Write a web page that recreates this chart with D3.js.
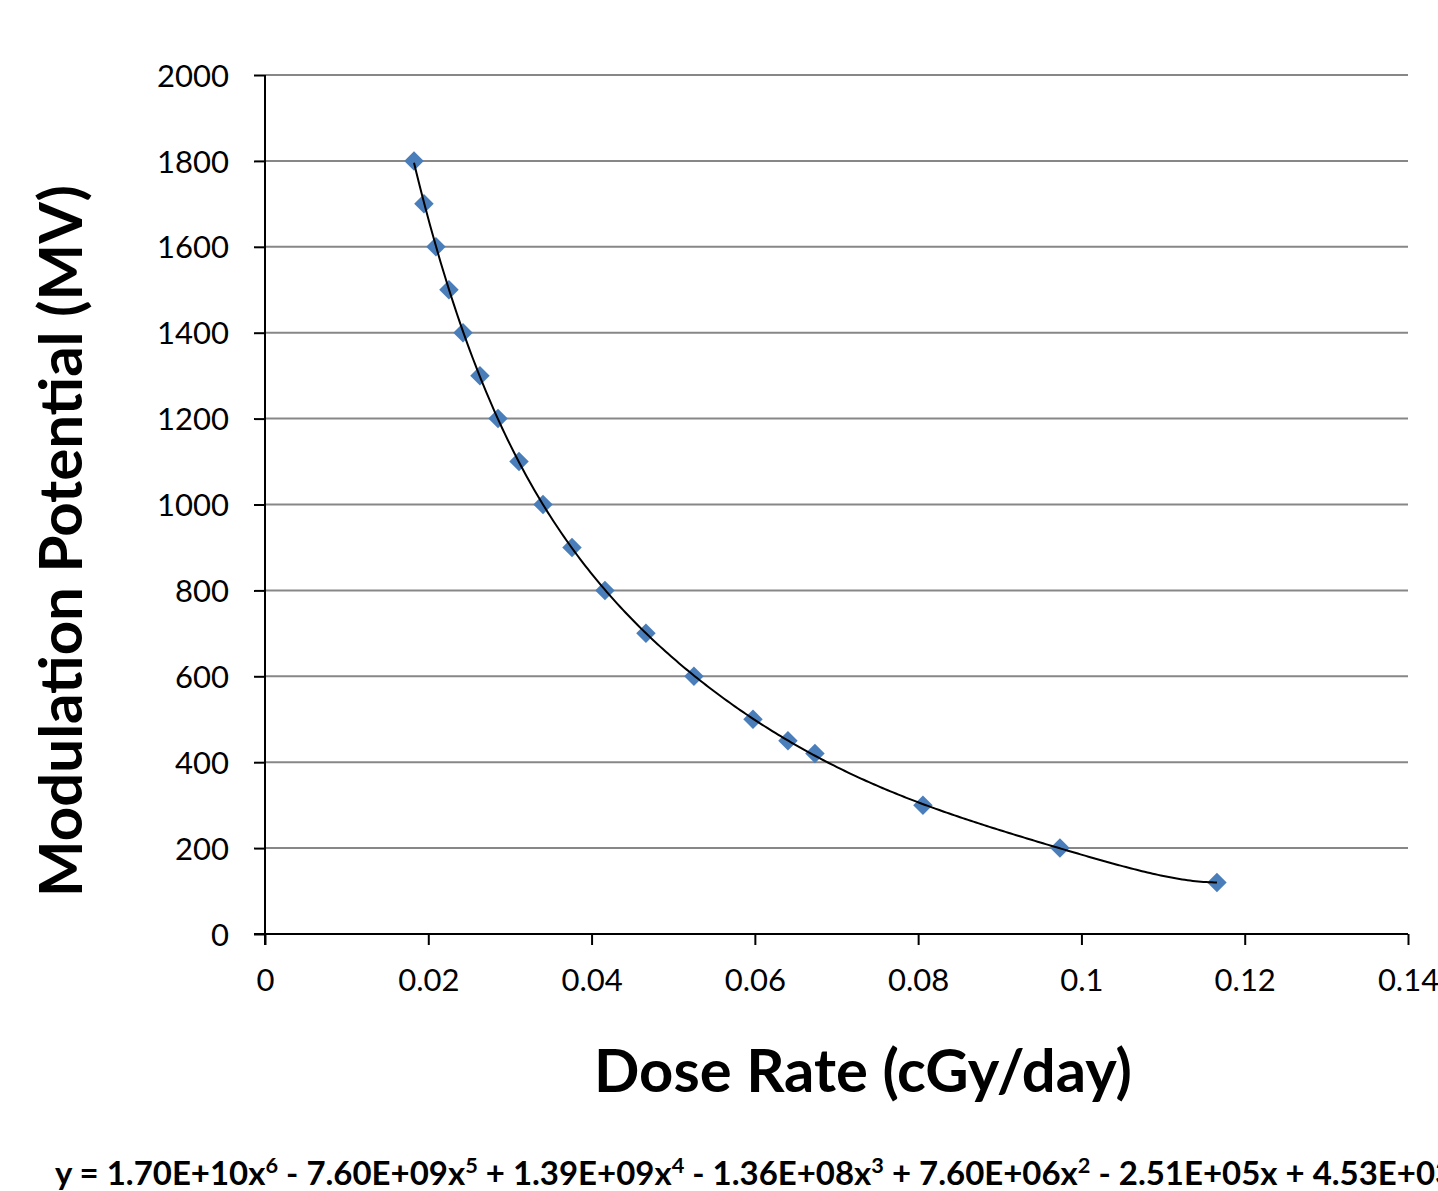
<!DOCTYPE html>
<html>
<head>
<meta charset="utf-8">
<script src="https://cdn.jsdelivr.net/npm/d3@7"></script>
<style>
  body { margin: 0; background: #fff; }
  svg { display: block; font-family: Lato, "Open Sans", sans-serif; }
</style>
</head>
<body>
<div id="chart"></div>
<script>
// Data
var doseRate = [0.01825, 0.01947, 0.02094, 0.02253, 0.02425, 0.02633, 0.02854, 0.03111, 0.03405,
                0.0376, 0.04164, 0.04666, 0.05254, 0.05977, 0.06405, 0.06736, 0.08059, 0.09737, 0.1166];
var potential = [1800, 1700, 1600, 1500, 1400, 1300, 1200, 1100, 1000,
                 900, 800, 700, 600, 500, 450, 420, 300, 200, 120];
var xTicks = [0, 0.02, 0.04, 0.06, 0.08, 0.1, 0.12, 0.14];
var yTicks = [0, 200, 400, 600, 800, 1000, 1200, 1400, 1600, 1800, 2000];
var xTitle = "Dose Rate (cGy/day)";
var yTitle = "Modulation Potential (MV)";
// equation parts: [text, superscript]
var equation = [["y = 1.70E+10x", "6"], [" - 7.60E+09x", "5"], [" + 1.39E+09x", "4"], [" - 1.36E+08x", "3"],
                [" + 7.60E+06x", "2"], [" - 2.51E+05x + 4.53E+03", ""]];

var W = 1438, H = 1191;
var svg = d3.select("#chart").append("svg")
    .attr("width", W)
    .attr("height", H);

var x = d3.scaleLinear().domain([0, 0.14]).range([265, 1408]);
var y = d3.scaleLinear().domain([0, 2000]).range([934, 75]);

// gridlines
svg.append("g")
  .selectAll("line")
  .data(yTicks.filter(function(d) { return d > 0; }))
  .enter().append("line")
    .attr("x1", x(0)).attr("x2", x(0.14))
    .attr("y1", function(d) { return y(d); })
    .attr("y2", function(d) { return y(d); })
    .attr("stroke", "#878787")
    .attr("stroke-width", 2);

// axes
var xAxis = svg.append("g")
    .attr("transform", "translate(0," + y(0) + ")")
    .call(d3.axisBottom(x).tickValues(xTicks).tickSize(11).tickFormat(d3.format("~g")));
var yAxis = svg.append("g")
    .attr("transform", "translate(" + x(0) + ",0)")
    .call(d3.axisLeft(y).tickValues(yTicks).tickSize(11).tickFormat(d3.format("d")));

[xAxis, yAxis].forEach(function(a) {
  a.select(".domain").attr("stroke", "#000").attr("stroke-width", 2);
  a.selectAll(".tick line").attr("stroke", "#000").attr("stroke-width", 2);
  a.selectAll(".tick text")
    .attr("fill", "#000")
    .style("font-size", "31px")
    .style("font-family", "Lato, sans-serif");
});
xAxis.selectAll(".tick text").attr("y", 35).attr("dy", "0.71em");
yAxis.selectAll(".tick text").attr("x", -36).attr("dy", "0.36em");
// extend axes lines to meet ticks at origin
xAxis.select(".domain").attr("d", "M" + (x(0) - 11) + ",0H" + x(0.14));
yAxis.select(".domain").attr("d", "M0," + y(2000) + "V" + (y(0) + 11));

// polynomial trendline (least squares, order 6)
function polyFit(xs, ys, order) {
  var mean = d3.mean(xs), sd = d3.deviation(xs);
  var n = order + 1;
  var A = [], b = [];
  for (var i = 0; i < n; i++) { A.push(new Array(n).fill(0)); b.push(0); }
  xs.forEach(function(xv, k) {
    var t = (xv - mean) / sd;
    var pw = [];
    for (var i = 0; i < 2 * n; i++) pw.push(Math.pow(t, i));
    for (var i = 0; i < n; i++) {
      for (var j = 0; j < n; j++) A[i][j] += pw[i + j];
      b[i] += pw[i] * ys[k];
    }
  });
  for (var c = 0; c < n; c++) {
    var p = c;
    for (var r = c + 1; r < n; r++) if (Math.abs(A[r][c]) > Math.abs(A[p][c])) p = r;
    var tmp = A[c]; A[c] = A[p]; A[p] = tmp;
    var tb = b[c]; b[c] = b[p]; b[p] = tb;
    for (var r = c + 1; r < n; r++) {
      var f = A[r][c] / A[c][c];
      for (var j = c; j < n; j++) A[r][j] -= f * A[c][j];
      b[r] -= f * b[c];
    }
  }
  var coef = new Array(n).fill(0);
  for (var i = n - 1; i >= 0; i--) {
    var s = b[i];
    for (var j = i + 1; j < n; j++) s -= A[i][j] * coef[j];
    coef[i] = s / A[i][i];
  }
  return function(xv) {
    var t = (xv - mean) / sd, s = 0;
    for (var i = n - 1; i >= 0; i--) s = s * t + coef[i];
    return s;
  };
}

var fit = polyFit(doseRate, potential, 6);
var x0 = d3.min(doseRate), x1 = d3.max(doseRate);
var trend = d3.range(0, 301).map(function(i) {
  var xv = x0 + (x1 - x0) * i / 300;
  return [xv, fit(xv)];
});

var points = doseRate.map(function(d, i) { return [d, potential[i]]; });

// markers
svg.append("g")
  .selectAll("path")
  .data(points)
  .enter().append("path")
    .attr("d", d3.symbol(d3.symbolSquare, 190))
    .attr("transform", function(d) { return "translate(" + x(d[0]) + "," + y(d[1]) + ") rotate(45)"; })
    .attr("fill", "#4a7ebb");

// trendline on top
svg.append("path")
  .datum(trend)
  .attr("fill", "none")
  .attr("stroke", "#000")
  .attr("stroke-width", 2)
  .attr("d", d3.line().x(function(d) { return x(d[0]); }).y(function(d) { return y(d[1]); }));

// fit text to a target width
function fitWidth(sel, target) {
  var w = sel.node().getComputedTextLength();
  var fs = parseFloat(sel.style("font-size"));
  sel.style("font-size", (fs * target / w) + "px");
}

// axis titles
var xt = svg.append("text")
    .attr("x", 863).attr("y", 1092)
    .attr("text-anchor", "middle")
    .style("font-weight", "bold")
    .style("font-size", "56px")
    .text(xTitle);
fitWidth(xt, 538);

var yt = svg.append("text")
    .attr("transform", "translate(82,541) rotate(-90)")
    .attr("text-anchor", "middle")
    .style("font-weight", "bold")
    .style("font-size", "56px")
    .text(yTitle);
fitWidth(yt, 712);

// trendline equation
var eq = svg.append("text")
    .attr("x", 55).attr("y", 1185)
    .style("font-weight", "bold")
    .style("font-size", "30px");
var lift = 0;
equation.forEach(function(part) {
  eq.append("tspan").attr("y", 1185).text(part[0]);
  if (part[1]) {
    eq.append("tspan").attr("y", 1173).style("font-size", "0.66em").text(part[1]);
  }
});
fitWidth(eq, 1400);
</script>
</body>
</html>
